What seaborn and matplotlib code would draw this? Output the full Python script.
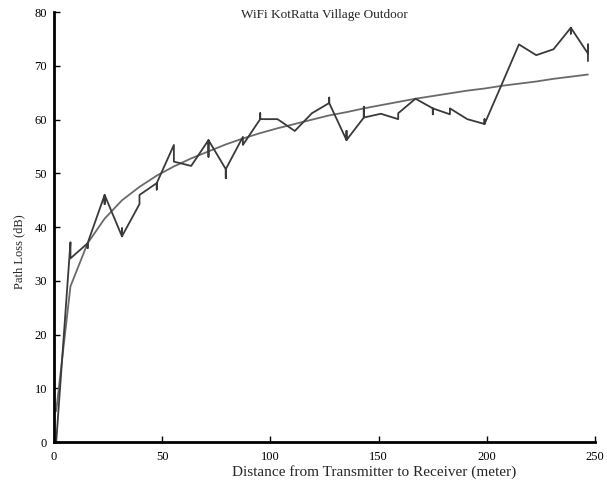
import numpy as np
import pandas as pd
import matplotlib
matplotlib.use("Agg")
import matplotlib.pyplot as plt
import seaborn as sns

# Measured path loss walk (repeated distances hold repeated readings)
meas_dist = [1.0,
             7.6, 7.6,
             15.5, 15.5, 15.5,
             23.4, 23.4, 23.4,
             31.4, 31.4, 31.4,
             39.5, 39.5,
             47.5, 47.5, 47.5,
             55.4, 55.4,
             63.4,
             71.4, 71.4, 71.4,
             79.4, 79.4, 79.4,
             87.3, 87.3,
             95.3, 95.3, 95.3,
             103.3,
             111.3,
             119.2,
             127.2, 127.2, 127.2,
             135.2, 135.2, 135.2,
             143.2, 143.2, 143.2,
             151.1,
             159.1, 159.1,
             167.1,
             175.1, 175.1, 175.1,
             183.0, 183.0,
             191.0,
             199.0, 199.0, 199.0,
             207.0,
             214.9,
             222.9,
             230.9,
             238.9, 238.9, 238.9,
             246.8, 246.8, 246.8]
meas_loss = [0.0,
             37.2, 34.2,
             37.0, 36.1, 37.0,
             46.0, 44.3, 46.0,
             38.3, 39.8, 38.3,
             44.3, 46.0,
             48.2, 47.0, 48.2,
             55.3, 52.2,
             51.4,
             56.2, 53.1, 56.2,
             50.8, 49.1, 50.8,
             56.8, 55.3,
             60.1, 61.2, 60.1,
             60.1,
             57.9,
             61.2,
             63.1, 64.1, 63.1,
             56.2, 57.9, 56.2,
             60.4, 62.4, 60.4,
             61.1,
             60.1, 61.2,
             63.9,
             62.1, 61.0, 62.1,
             61.0, 62.1,
             60.1,
             59.2, 60.1, 59.2,
             66.6,
             74.0,
             72.0,
             73.1,
             77.1, 76.0, 77.1,
             72.3, 74.0, 70.9]

# Log-distance model curve
model_dist = [1.0, 7.6, 15.5, 23.4, 31.4, 39.5, 47.5, 55.4, 63.4, 71.4, 79.4,
              87.3, 95.3, 103.3, 111.3, 119.2, 127.2, 135.2, 143.2, 151.1,
              159.1, 167.1, 175.1, 183.0, 191.0, 199.0, 207.0, 214.9, 222.9,
              230.9, 238.9, 246.8]
model_loss = [5.8, 29.0, 37.0, 41.6, 45.0, 47.5, 49.6, 51.3, 52.8, 54.1, 55.4,
              56.5, 57.5, 58.4, 59.2, 60.0, 60.8, 61.4, 62.1, 62.7,
              63.3, 63.9, 64.4, 64.9, 65.4, 65.8, 66.3, 66.7, 67.1,
              67.6, 68.0, 68.4]

title = "WiFi KotRatta Village Outdoor"
xlabel = "Distance from Transmitter to Receiver (meter)"
ylabel = "Path Loss (dB)"
xticks = [0, 50, 100, 150, 200, 250]
yticks = [0, 10, 20, 30, 40, 50, 60, 70, 80]

sns.set_style("ticks")
plt.rcParams["font.family"] = ["Liberation Serif", "DejaVu Serif"]
plt.rcParams["xtick.direction"] = "in"
plt.rcParams["ytick.direction"] = "in"

meas_df = pd.DataFrame({"d": meas_dist, "pl": meas_loss})
model_df = pd.DataFrame({"d": model_dist, "pl": model_loss})

fig = plt.figure(figsize=(6.07, 4.86), dpi=100)
ax = fig.add_axes([0.089, 0.09, 0.891, 0.885])

sns.lineplot(data=model_df, x="d", y="pl", sort=False, estimator=None,
             color="#6a6a6a", linewidth=1.3, ax=ax)
sns.lineplot(data=meas_df, x="d", y="pl", sort=False, estimator=None,
             color="#3a3a3a", linewidth=1.3, ax=ax)

ax.set_xlim(0, 250)
ax.set_ylim(0, 80)
ax.set_xticks(xticks)
ax.set_yticks(yticks)
ax.tick_params(axis="x", labelsize=9, length=4, width=1, color="black",
               labelcolor="black", pad=6)
ax.tick_params(axis="y", labelsize=9, length=4, width=1, color="black",
               labelcolor="black", pad=5)
ax.set_xlabel(xlabel, fontsize=11)
ax.set_ylabel(ylabel, fontsize=9)
ax.xaxis.set_label_coords(0.592, -0.053)
ax.yaxis.set_label_coords(-0.053, 0.444)
ax.text(0.5, 1.008, title, transform=ax.transAxes, ha="center", va="top",
        fontsize=9.5)

for side in ("top", "right"):
    ax.spines[side].set_visible(False)
for side in ("left", "bottom"):
    ax.spines[side].set_linewidth(2)
    ax.spines[side].set_color("black")

fig.savefig("out.png", dpi=100)
